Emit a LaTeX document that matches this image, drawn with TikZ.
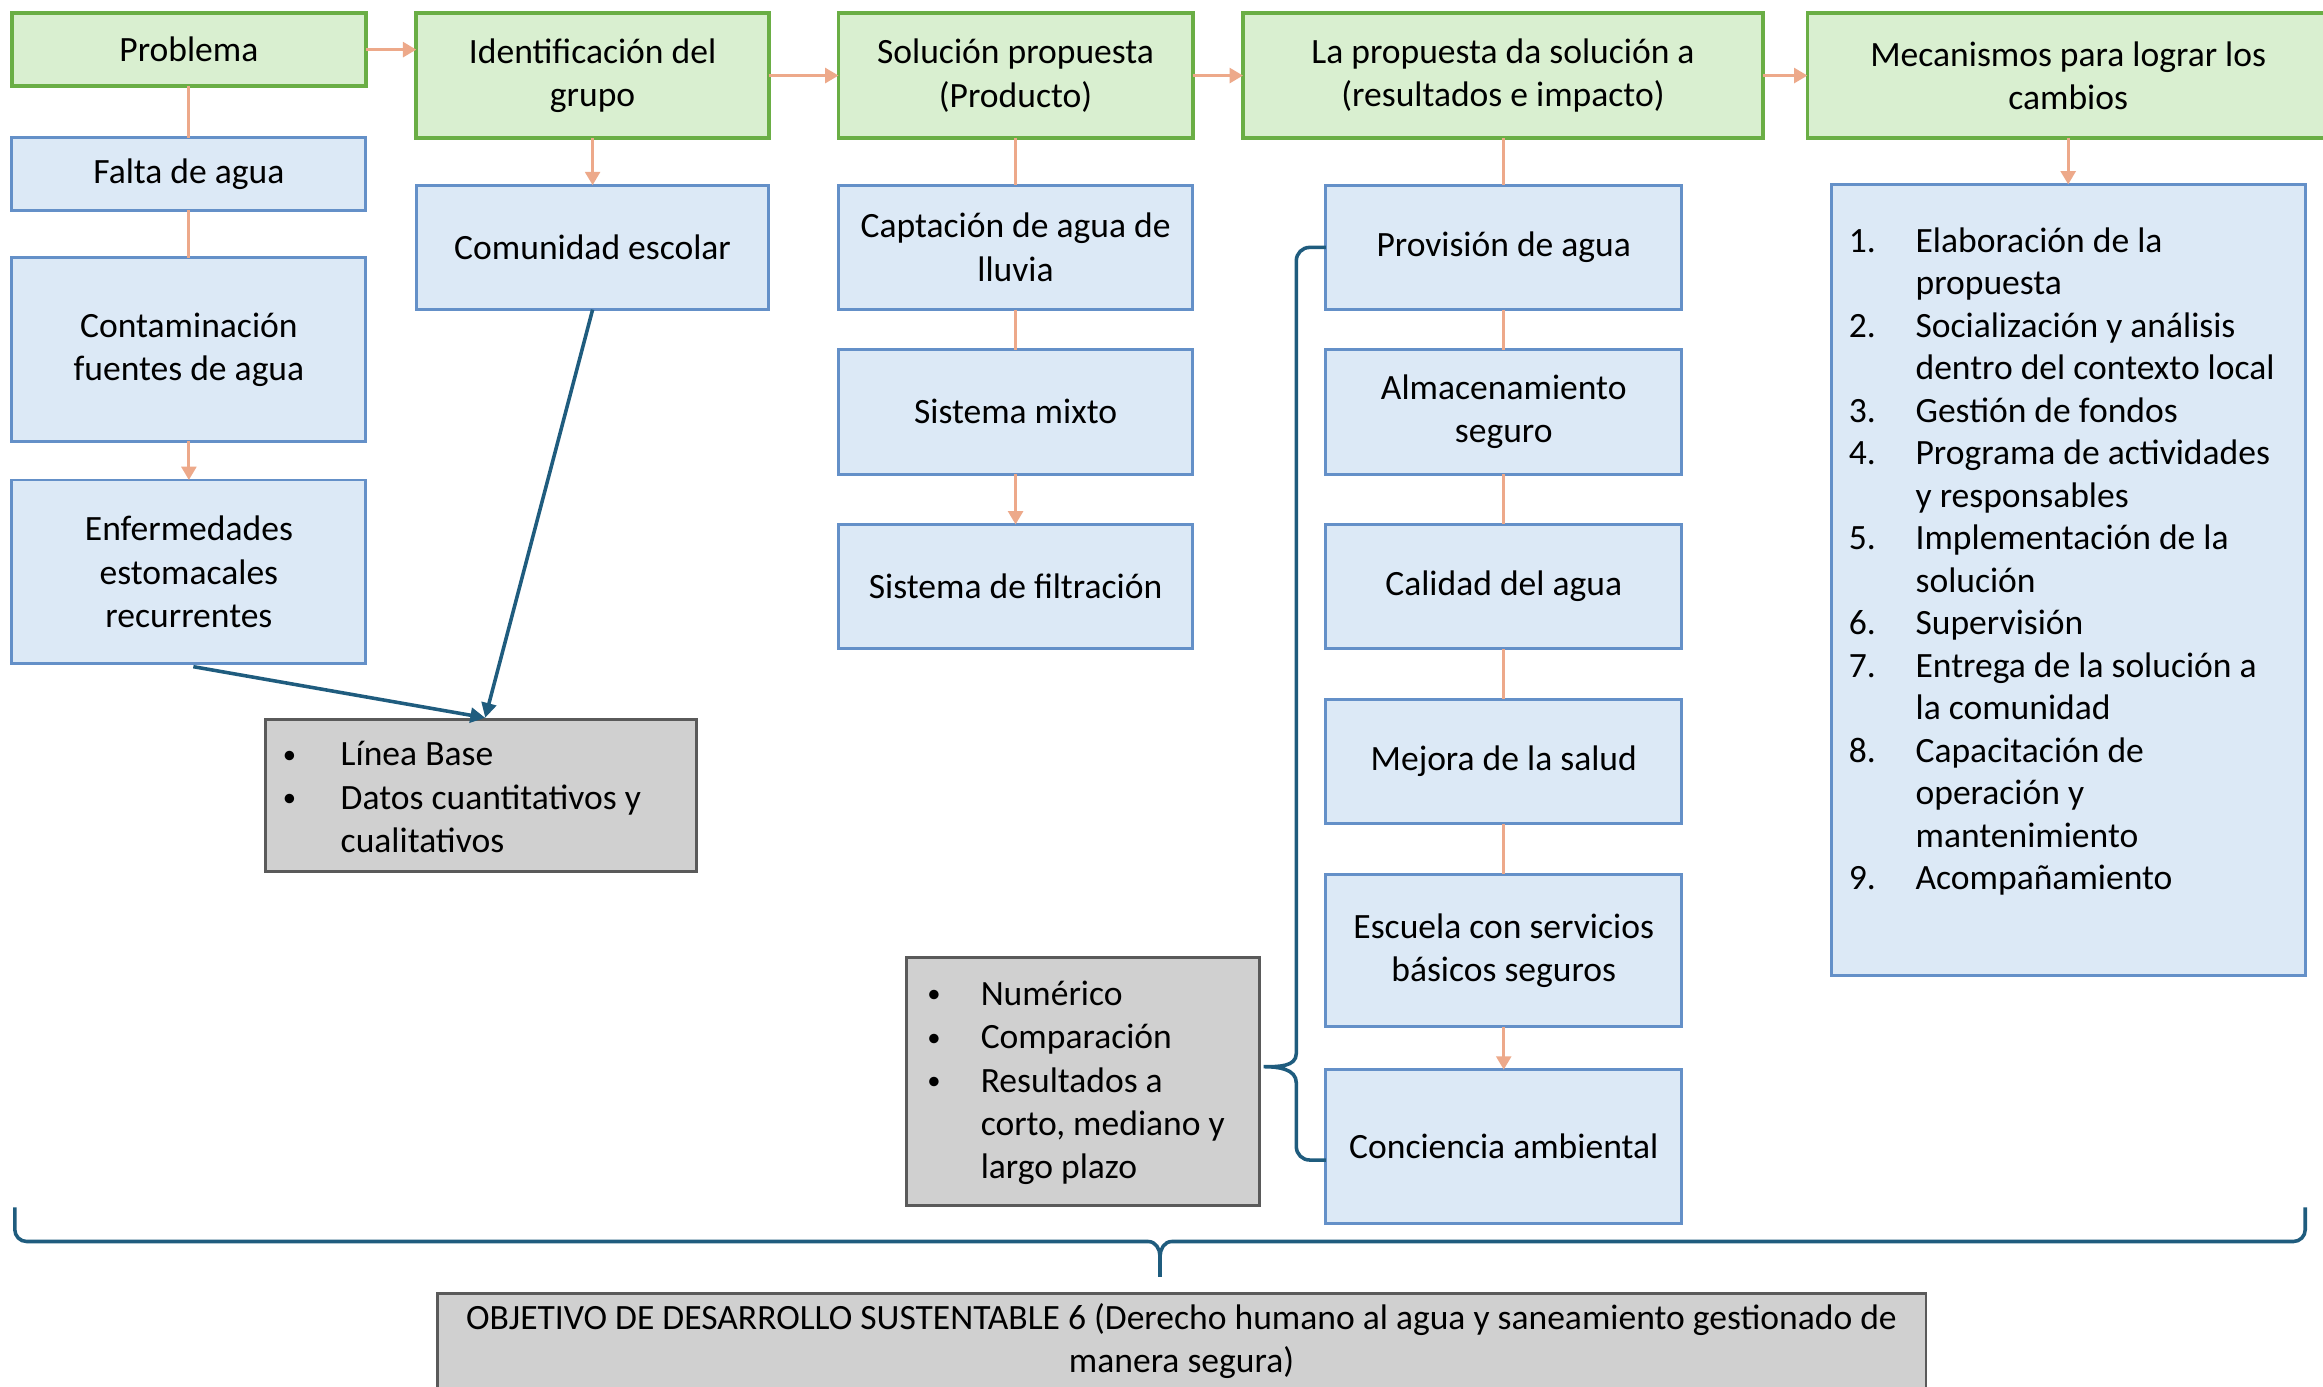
\documentclass[tikz,border=0pt]{standalone}
\usepackage{fontspec}
\setmainfont{Carlito}
\usetikzlibrary{arrows.meta,calc}
\definecolor{gfill}{HTML}{D9EFD0}
\definecolor{gdraw}{HTML}{6AAE45}
\definecolor{bfill}{HTML}{DCE9F6}
\definecolor{bdraw}{HTML}{6490C8}
\definecolor{grfill}{HTML}{D0D0D0}
\definecolor{grdraw}{HTML}{5A5A5A}
\definecolor{ocol}{HTML}{EDA98A}
\definecolor{tcol}{HTML}{1F5C7E}
\newcommand{\numitem}[2]{\makebox[22.5pt][l]{#1}#2}
\newcommand{\contline}{\hspace*{22.5pt}}
\newcommand{\smallbul}{\raisebox{0.9pt}{\fontsize{9}{9}\selectfont •}}
\begin{document}
\begin{tikzpicture}[x=0.5pt,y=-0.5pt,
  font=\fontsize{12}{14.6}\selectfont,
  box/.style={draw, inner sep=0pt, outer sep=0pt, align=center},
  gbox/.style={box, fill=gfill, draw=gdraw, line width=1.3pt},
  bbox/.style={box, fill=bfill, draw=bdraw, line width=1pt},
  graybox/.style={box, fill=grfill, draw=grdraw, line width=1pt},
  oline/.style={draw=ocol, line width=1pt},
  oarrow/.style={oline, -{Triangle[length=4.5pt,width=5pt]}},
  tarrow/.style={draw=tcol, line width=1.2pt, -{Triangle[length=5pt,width=5pt]}},
  bracestyle/.style={draw=tcol, line width=1.2pt},
  listtext/.style={anchor=west, align=left, inner sep=0pt, outer sep=0pt}
]
\useasboundingbox (0,0) rectangle (1568,936);
\fill[white] (0,0) rectangle (1568,936);

% green header row
\node[gbox, minimum width=119.5pt, minimum height=24.5pt] (prob) at (127.5,33.5) {Problema};
\node[gbox, minimum width=119pt, minimum height=42pt] (ident) at (400,51) {Identificación del\\grupo};
\node[gbox, minimum width=119.5pt, minimum height=42pt] (sol) at (685.5,51) {Solución propuesta\\(Producto)};
\node[gbox, minimum width=175.5pt, minimum height=42pt] (prop) at (1014.5,51) {La propuesta da solución a\\(resultados e impacto)};
\node[gbox, minimum width=176pt, minimum height=42pt] (mec) at (1396,51) {Mecanismos para lograr los\\cambios};

% column 1
\node[bbox, minimum width=119.5pt, minimum height=24.5pt] (falta) at (127.5,117.5) {Falta de agua};
\node[bbox, minimum width=119.5pt, minimum height=62pt] (cont) at (127.5,236) {Contaminación\\fuentes de agua};
\node[bbox, minimum width=119.5pt, minimum height=62pt] (enf) at (127.5,386) {Enfermedades\\estomacales\\recurrentes};

% column 2
\node[bbox, minimum width=119pt, minimum height=42pt] (com) at (400,167) {Comunidad escolar};

% gray box 1
\node[graybox, minimum width=145.5pt, minimum height=51.5pt] (g1) at (324.5,537) {};
\node[listtext] (g1text) at (191,538) {\makebox[19.5pt][l]{\smallbul}Línea Base\\\makebox[19.5pt][l]{\smallbul}Datos cuantitativos y\\\hspace*{19.5pt}cualitativos};

% column 3
\node[bbox, minimum width=119.5pt, minimum height=42pt] (capt) at (685.5,167) {Captación de agua de\\lluvia};
\node[bbox, minimum width=119.5pt, minimum height=42pt] (mixto) at (685.5,278) {Sistema mixto};
\node[bbox, minimum width=119.5pt, minimum height=42pt] (filt) at (685.5,396) {Sistema de filtración};

% column 4
\node[bbox, minimum width=120pt, minimum height=42pt] (prov) at (1015,167) {Provisión de agua};
\node[bbox, minimum width=120pt, minimum height=42pt] (alm) at (1015,278) {Almacenamiento\\seguro};
\node[bbox, minimum width=120pt, minimum height=42pt] (cal) at (1015,396) {Calidad del agua};
\node[bbox, minimum width=120pt, minimum height=42pt] (mej) at (1015,514) {Mejora de la salud};
\node[bbox, minimum width=120pt, minimum height=51.5pt] (esc) at (1015,641.5) {Escuela con servicios\\básicos seguros};
\node[bbox, minimum width=120pt, minimum height=52pt] (conc) at (1015,774) {Conciencia ambiental};

% gray box 2
\node[graybox, minimum width=119pt, minimum height=83.5pt] (g2) at (731,730) {};
\node[listtext] (g2text) at (626,731) {\makebox[18pt][l]{\smallbul}Numérico\\\makebox[18pt][l]{\smallbul}Comparación\\\makebox[18pt][l]{\smallbul}Resultados a\\\hspace*{18pt}corto, mediano y\\\hspace*{18pt}largo plazo};

% column 5
\node[bbox, minimum width=160pt, minimum height=267pt] (meclist) at (1396,391.5) {};
\node[listtext, font=\fontsize{12}{14.35}\selectfont] (mectext) at (1248,379) {%
\numitem{1.}{Elaboración de la}\\\contline propuesta\\
\numitem{2.}{Socialización y análisis}\\\contline dentro del contexto local\\
\numitem{3.}{Gestión de fondos}\\
\numitem{4.}{Programa de actividades}\\\contline y responsables\\
\numitem{5.}{Implementación de la}\\\contline solución\\
\numitem{6.}{Supervisión}\\
\numitem{7.}{Entrega de la solución a}\\\contline la comunidad\\
\numitem{8.}{Capacitación de}\\\contline operación y\\\contline mantenimiento\\
\numitem{9.}{Acompañamiento}};

% bottom objective
\node[graybox, minimum width=502.5pt, minimum height=32pt] (ods) at (797.5,905) {OBJETIVO DE DESARROLLO SUSTENTABLE 6 (Derecho humano al agua y saneamiento gestionado de\\manera segura)};

% orange connectors
\draw[oarrow] (prob.east) -- (prob.east -| ident.west);
\draw[oarrow] (ident.east) -- (sol.west);
\draw[oarrow] (sol.east) -- (prop.west);
\draw[oarrow] (prop.east) -- (mec.west);
\draw[oline] (prob.south) -- (falta.north);
\draw[oline] (falta.south) -- (cont.north);
\draw[oarrow] (cont.south) -- (enf.north);
\draw[oarrow] (ident.south) -- (com.north);
\draw[oline] (sol.south) -- (capt.north);
\draw[oline] (capt.south) -- (mixto.north);
\draw[oarrow] (mixto.south) -- (filt.north);
\draw[oline] (prop.south -| prov.north) -- (prov.north);
\draw[oline] (prov.south) -- (alm.north);
\draw[oline] (alm.south) -- (cal.north);
\draw[oline] (cal.south) -- (mej.north);
\draw[oline] (mej.south) -- (esc.north);
\draw[oarrow] (esc.south) -- (conc.north);
\draw[oarrow] (mec.south -| meclist.north) -- (meclist.north);

% teal arrows to gray box 1
\draw[tarrow] ($(enf.south)+(3,2)$) -- ($(g1.north)+(3,-1)$);
\draw[tarrow] (com.south) -- ($(g1.north)+(3,-1)$);

% left brace to gray box 2
\coordinate (tip2) at ($(g2.east)+(3,-10)$);
\coordinate (cb) at ($(conc.west)+(0,9)$);
\draw[bracestyle] (prov.west) -- (884,167) to[out=180,in=90] (875,176) -- (875,711)
  to[out=-90,in=0] (tip2) to[out=0,in=90] (875,731) -- (875,774) to[out=-90,in=180] (884,783) -- (cb);

% bottom brace
\coordinate (tip3) at (783,848);
\draw[bracestyle] (10,815) -- (10,830) to[out=-90,in=180] (18,838) -- (775,838)
  to[out=0,in=90] (tip3) to[out=90,in=180] (791,838) -- (1548,838) to[out=0,in=-90] (1556,830) -- (1556,815);
\draw[bracestyle] (tip3) -- ++(0,14);
\end{tikzpicture}
\end{document}
